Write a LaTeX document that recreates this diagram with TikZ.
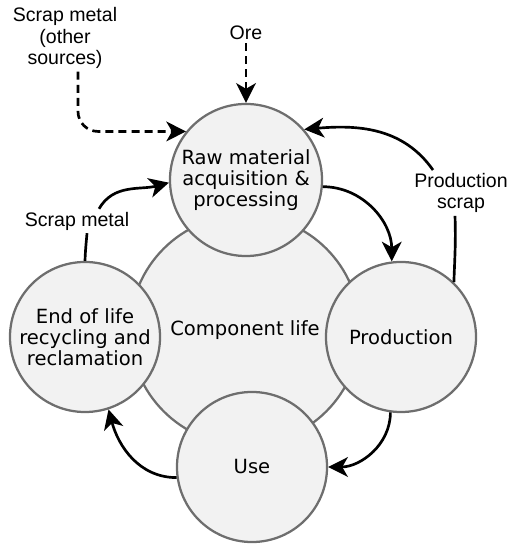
\documentclass[tikz,border=0pt]{standalone}
\usepackage{fontspec}
\setmainfont{DejaVu Sans}
\newfontfamily\labelfont{Liberation Sans}
\usetikzlibrary{arrows.meta}

\begin{document}
\begin{tikzpicture}[x=0.025cm, y=0.025cm, >={Stealth[length=14pt,width=14pt,inset=4pt]}, font=\fontsize{13.9}{15}\selectfont]
  \tikzset{stage/.style={circle, draw=black!57, fill=black!5, line width=1.6pt, minimum size=3.75cm, inner sep=0pt, align=center},
    link/.style={line width=1.9pt},
    flow/.style={link, ->},
    feed/.style={flow, dash pattern=on 5.7pt off 3.6pt},
    tag/.style={font={\labelfont\fontsize{13.9}{15.3}\selectfont}, align=center, inner sep=2pt}}
  \useasboundingbox (0,0) rectangle (516,550);
  \node[stage, minimum size=5.75cm] (life) at (245,220) {Component life};
  \node[stage, minimum size=3.8cm] (raw) at (246,370) {Raw material\\acquisition \&\\processing};
  \node[stage] (prod) at (401,213) {Production};
  \node[stage] (eol) at (85,213) {End of life\\recycling and\\reclamation};
  \node[stage] (use) at (252,83) {Use};
  \node[tag] (ore) at (246,517) {Ore};
  \node[tag] (other) at (65,512) {Scrap metal\\(other\\sources)};
  \node[tag] (scrap) at (77,329) {Scrap metal};
  \node[tag] (pscrap) at (461,357) {Production\\scrap};
  \draw[feed] (ore) -- (raw);
  \draw[feed, rounded corners=0.5cm] ([xshift=0.325cm]other.south) |- (raw.141);
  \draw[link] (eol.north) to[out=88,in=-95] ([xshift=0.25cm]scrap.south);
  \draw[flow] ([xshift=0.55cm]scrap.north) to[out=60,in=195] (raw.182);
  \draw[link] (prod.46) to[out=88,in=-88] ([xshift=-0.15cm]pscrap.south);
  \draw[flow] ([xshift=-0.7cm]pscrap.north) to[out=125,in=5] (raw.41);
  \draw[flow] (raw.-5) to[out=0,in=90] (prod.97);
  \draw[flow] (prod.262) to[out=-90,in=0] (use.east);
  \draw[flow] (use.188) to[out=180,in=-75] (eol.288);
\end{tikzpicture}
\end{document}
